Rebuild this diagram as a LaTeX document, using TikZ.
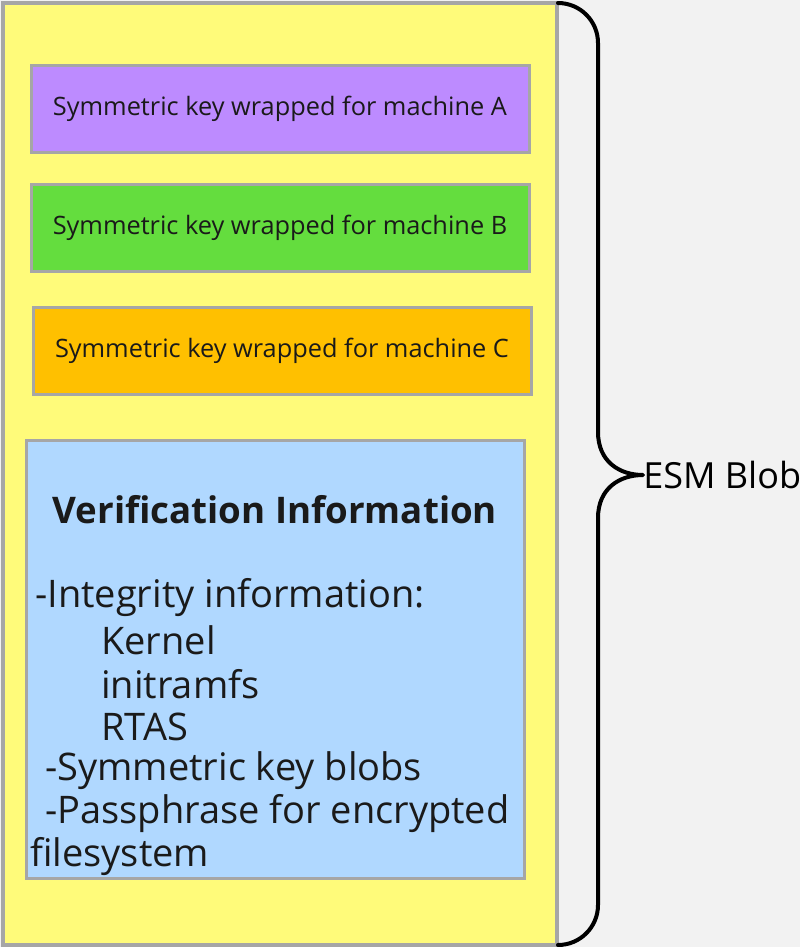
\documentclass[tikz,border=0pt]{standalone}
\usepackage{fontspec}
\setmainfont{Open Sans}
\definecolor{bgc}{HTML}{F2F2F2}
\definecolor{yel}{HTML}{FFFB7A}
\definecolor{edge}{HTML}{A6A6A6}
\definecolor{purp}{HTML}{BD8BFF}
\definecolor{grn}{HTML}{64DD3E}
\definecolor{org}{HTML}{FFC000}
\definecolor{blu}{HTML}{B0D8FF}
\definecolor{txt}{HTML}{1A1A1A}
\begin{document}
\begin{tikzpicture}[x=0.75pt,y=-0.75pt,
  keybox/.style={draw=edge,line width=2.25pt,minimum width=373.5pt,minimum height=65.25pt,inner sep=0pt,
    font=\fontsize{19}{22}\selectfont,text=txt},
  bodyline/.style={anchor=west,inner sep=0pt,font=\fontsize{28.5}{32}\selectfont,text=txt}]
\fill[bgc] (0,0) rectangle (800,947);
\useasboundingbox (0,0) rectangle (800,947);
\node[draw=edge,fill=yel,line width=3pt,minimum width=415.5pt,minimum height=706.5pt,inner sep=0pt] (blob) at (280,474) {};
\node[keybox,fill=purp] (ka) at (280,108.5) {Symmetric key wrapped for machine A};
\node[keybox,fill=grn] (kb) at (280,227.5) {Symmetric key wrapped for machine B};
\node[keybox,fill=org] (kc) at (282,350.5) {Symmetric key wrapped for machine C};
\node[draw=edge,fill=blu,line width=2.25pt,minimum width=373.5pt,minimum height=328.5pt,inner sep=0pt] (ver) at (275,659) {};
\node[inner sep=0pt,font=\fontsize{27.5}{32}\selectfont\bfseries,text=txt] (vt) at (275,510) {Verification Information};
\node[bodyline] (l1) at (35,598) {-Integrity information:};
\node[bodyline] (l2) at (101,640) {Kernel};
\node[bodyline] (l3) at (101,684) {initramfs};
\node[bodyline] (l4) at (101,727) {RTAS};
\node[bodyline] (l5) at (45,771) {-Symmetric key blobs};
\node[bodyline] (l6) at (45,814) {-Passphrase for encrypted};
\node[bodyline] (l7) at (30,857) {filesystem};
\node[anchor=west,inner sep=0pt,font=\fontsize{27}{30}\selectfont,text=black] (esm) at (643,475) {ESM Blob};
\draw[line width=3pt,line cap=round,line join=round]
  (558,3) arc[start angle=-90,end angle=0,radius=40] -- (598,432)
  .. controls (598,462) and (620,475) .. (esm.west)
  .. controls (620,475) and (598,488) .. (598,518)
  -- (598,905) arc[start angle=0,end angle=90,radius=40];
\end{tikzpicture}
\end{document}
